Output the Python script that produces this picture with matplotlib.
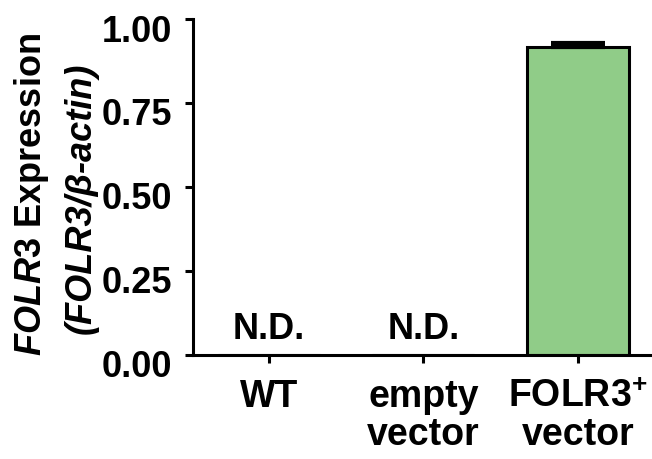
import matplotlib
matplotlib.use('Agg')
import matplotlib.pyplot as plt
from matplotlib.transforms import ScaledTranslation

# Data
groups = ['WT', 'empty\nvector', 'FOLR3$^{+}$\nvector']
expression = [0.0, 0.0, 0.917]
errors = [0.0, 0.0, 0.012]
nd_flags = [True, True, False]
yticks = [0.00, 0.25, 0.50, 0.75, 1.00]

plt.rcParams['font.family'] = 'Liberation Sans'
plt.rcParams['font.weight'] = 'bold'
plt.rcParams['mathtext.fontset'] = 'custom'
plt.rcParams['mathtext.rm'] = 'Liberation Sans:bold'
plt.rcParams['mathtext.bf'] = 'Liberation Sans:bold'
plt.rcParams['mathtext.it'] = 'Liberation Sans:italic:bold'

fig = plt.figure(figsize=(6.52, 4.59), dpi=100)
ax = fig.add_axes([0.296, 0.2266, 0.704, 0.732])

x = list(range(len(groups)))
ax.bar(x, expression, width=0.66, color='#90cc88', edgecolor='black', linewidth=2.2, zorder=2)
ax.errorbar(x[2], expression[2], yerr=[[0], [errors[2]]], fmt='none', ecolor='black',
            elinewidth=2.2, capsize=19.5, capthick=3, zorder=3)

for xi, flag in zip(x, nd_flags):
    if flag:
        ax.text(xi, 0.025, 'N.D.', ha='center', va='bottom', fontsize=26, fontweight='bold')

ax.set_xlim(-0.49, 2.48)
ax.set_ylim(0, 1.0)
ax.set_yticks(yticks)
ax.set_yticklabels([f'{v:.2f}' for v in yticks])
ax.set_xticks(x)
ax.set_xticklabels(groups, linespacing=1.1)

for side in ['top', 'right']:
    ax.spines[side].set_visible(False)
for side in ['left', 'bottom']:
    ax.spines[side].set_linewidth(2.2)

ax.tick_params(axis='both', length=6, width=2.2, direction='out')
ax.tick_params(axis='y', pad=9, labelsize=26)
ax.tick_params(axis='x', pad=11, labelsize=27)

# y tick labels sit a little below their ticks in the original
shift = ScaledTranslation(0, -0.09, fig.dpi_scale_trans)
for lab in ax.get_yticklabels():
    lab.set_transform(lab.get_transform() + shift)

fig.text(0.048, 0.577, r'$\mathit{FOLR3}$ Expression', rotation=90, ha='center', va='center',
         fontsize=26, fontweight='bold')
fig.text(0.124, 0.569, '(FOLR3/β-actin)', rotation=90, ha='center', va='center',
         fontsize=26, fontweight='bold', fontstyle='italic')

fig.savefig('out.png', dpi=100)
